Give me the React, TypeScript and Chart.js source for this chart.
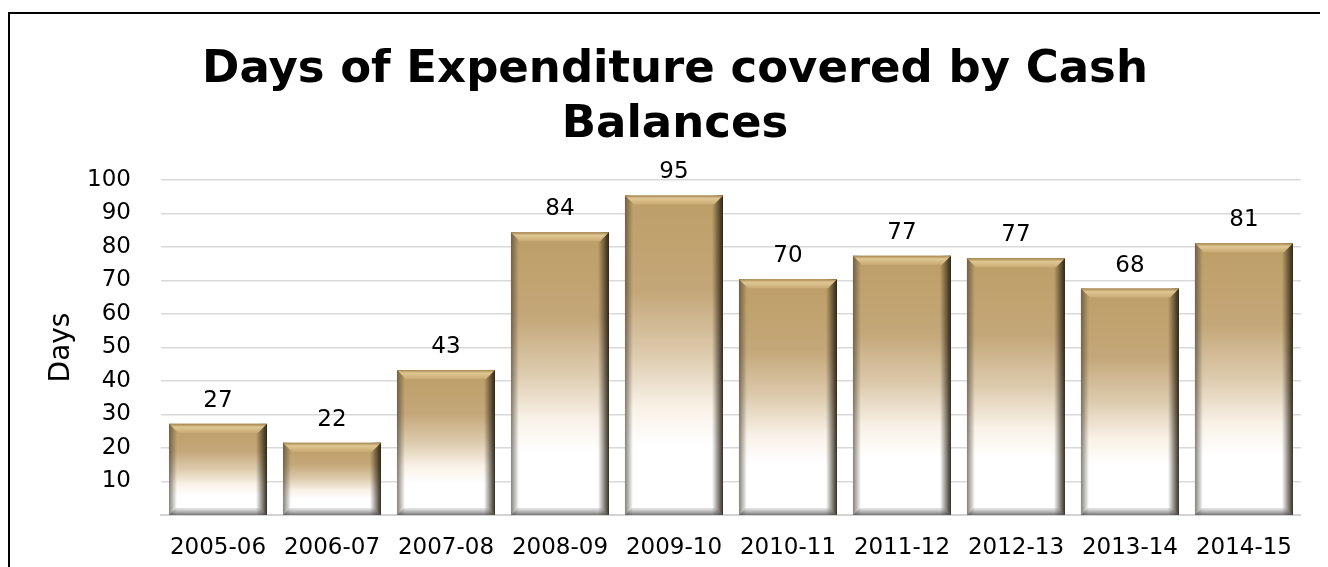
import React, { useEffect, useRef } from 'react';
import { Chart, registerables } from 'chart.js';

Chart.register(...registerables);

const categories = ['2005-06', '2006-07', '2007-08', '2008-09', '2009-10', '2010-11', '2011-12', '2012-13', '2013-14', '2014-15'];
const days = [27.2, 21.6, 43.3, 84.4, 95.4, 70.4, 77.4, 76.6, 67.6, 81.1];
const yTicks = [10, 20, 30, 40, 50, 60, 70, 80, 90, 100];
const titleLines = ['Days of Expenditure covered by Cash', 'Balances'];
const yAxisTitle = 'Days';

const FONT = '"DejaVu Sans", Verdana, sans-serif';

const bevelPlugin = {
  id: 'bevelAndLabels',
  afterDatasetsDraw(chart: any) {
    const ctx: CanvasRenderingContext2D = chart.ctx;
    const meta = chart.getDatasetMeta(0);
    meta.data.forEach((bar: any, i: number) => {
      const { x, y, base, width } = bar.getProps(['x', 'y', 'base', 'width'], true);
      const l = x - width / 2;
      const r = x + width / 2;
      const t = y;
      const b = base;
      const e = 9;
      ctx.save();
      // right dark edge
      let g = ctx.createLinearGradient(r - 11, 0, r, 0);
      g.addColorStop(0, 'rgba(35,28,15,0)');
      g.addColorStop(1, 'rgba(35,28,15,0.92)');
      ctx.fillStyle = g;
      ctx.fillRect(r - 11, t, 11, b - t);
      // left edge
      g = ctx.createLinearGradient(l, 0, l + 8, 0);
      g.addColorStop(0, 'rgba(70,62,50,0.65)');
      g.addColorStop(1, 'rgba(70,62,50,0)');
      ctx.fillStyle = g;
      ctx.fillRect(l, t, 8, b - t);
      // top bevel
      g = ctx.createLinearGradient(0, t, 0, t + e);
      g.addColorStop(0, '#a3844e');
      g.addColorStop(0.35, '#e0c793');
      g.addColorStop(1, '#c9ab74');
      ctx.fillStyle = g;
      ctx.beginPath();
      ctx.moveTo(l, t);
      ctx.lineTo(r, t);
      ctx.lineTo(r - e, t + e);
      ctx.lineTo(l + e, t + e);
      ctx.closePath();
      ctx.fill();
      // bottom bevel
      g = ctx.createLinearGradient(0, b - 7, 0, b);
      g.addColorStop(0, 'rgba(160,160,160,0.25)');
      g.addColorStop(1, 'rgba(80,80,80,0.8)');
      ctx.fillStyle = g;
      ctx.beginPath();
      ctx.moveTo(l, b);
      ctx.lineTo(r, b);
      ctx.lineTo(r - 7, b - 7);
      ctx.lineTo(l + 7, b - 7);
      ctx.closePath();
      ctx.fill();
      // value label
      ctx.fillStyle = '#000';
      ctx.font = `23px ${FONT}`;
      ctx.textAlign = 'center';
      ctx.textBaseline = 'alphabetic';
      ctx.fillText(String(Math.round(days[i])), x, t - 17);
      ctx.restore();
    });
  },
};

export default function App() {
  const ref = useRef<HTMLCanvasElement>(null);
  useEffect(() => {
    document.documentElement.style.overflow = 'hidden';
    const chart = new Chart(ref.current!, {
      type: 'bar',
      data: {
        labels: categories,
        datasets: [
          {
            data: days,
            barPercentage: 0.86,
            categoryPercentage: 1,
            borderWidth: 0,
            backgroundColor: (c: any) => {
              const ch = c.chart;
              if (!ch.chartArea || c.type !== 'data') return '#c0a36e';
              const v = c.raw as number;
              const top = ch.scales.y.getPixelForValue(v);
              const bot = ch.scales.y.getPixelForValue(0);
              const g = ch.ctx.createLinearGradient(0, top, 0, bot);
              g.addColorStop(0, '#bd9e66');
              g.addColorStop(0.3, '#c4a779');
              g.addColorStop(0.5, '#ddcbae');
              g.addColorStop(0.66, '#f8f1e6');
              g.addColorStop(0.78, '#ffffff');
              g.addColorStop(1, '#ffffff');
              return g;
            },
          },
        ],
      },
      options: {
        animation: false,
        responsive: true,
        maintainAspectRatio: false,
        layout: { padding: { left: 29, right: 0, top: 0, bottom: 6 } },
        plugins: {
          legend: { display: false },
          tooltip: { enabled: false },
          title: {
            display: true,
            text: titleLines,
            color: '#000',
            font: { family: FONT, size: 45, weight: 'bold', lineHeight: 1.222 },
            padding: { top: 29, bottom: 27 },
          },
        },
        scales: {
          x: {
            afterFit: (scale: any) => {
              scale.height = 46;
            },
            grid: { display: false, drawTicks: false },
            border: { display: true, color: '#d2d2d2', width: 2 },
            ticks: { color: '#000', font: { family: FONT, size: 23 }, padding: 19, maxRotation: 0, autoSkip: false },
          },
          y: {
            min: 0,
            max: 100,
            afterBuildTicks: (scale: any) => {
              scale.ticks = yTicks.map((value) => ({ value }));
            },
            afterFit: (scale: any) => {
              scale.width = 122;
            },
            grid: { color: '#d9d9d9', lineWidth: 1.5, drawTicks: false },
            border: { display: false },
            ticks: { color: '#000', font: { family: FONT, size: 23 }, padding: 30 },
            title: {
              display: true,
              text: yAxisTitle,
              color: '#000',
              font: { family: FONT, size: 28 },
              padding: { top: 6, bottom: 0 },
            },
          },
        },
      },
      plugins: [bevelPlugin],
    } as any);
    return () => chart.destroy();
  }, []);
  return (
    <div
      style={{
        marginTop: 4,
        width: 1320,
        height: 555,
        overflow: 'hidden',
        borderLeft: '2px solid #000',
        borderTop: '2px solid #000',
        boxSizing: 'border-box',
        background: '#fff',
      }}
    >
      <div style={{ width: 1301, height: 553, position: 'relative' }}>
        <canvas ref={ref} />
      </div>
    </div>
  );
}
